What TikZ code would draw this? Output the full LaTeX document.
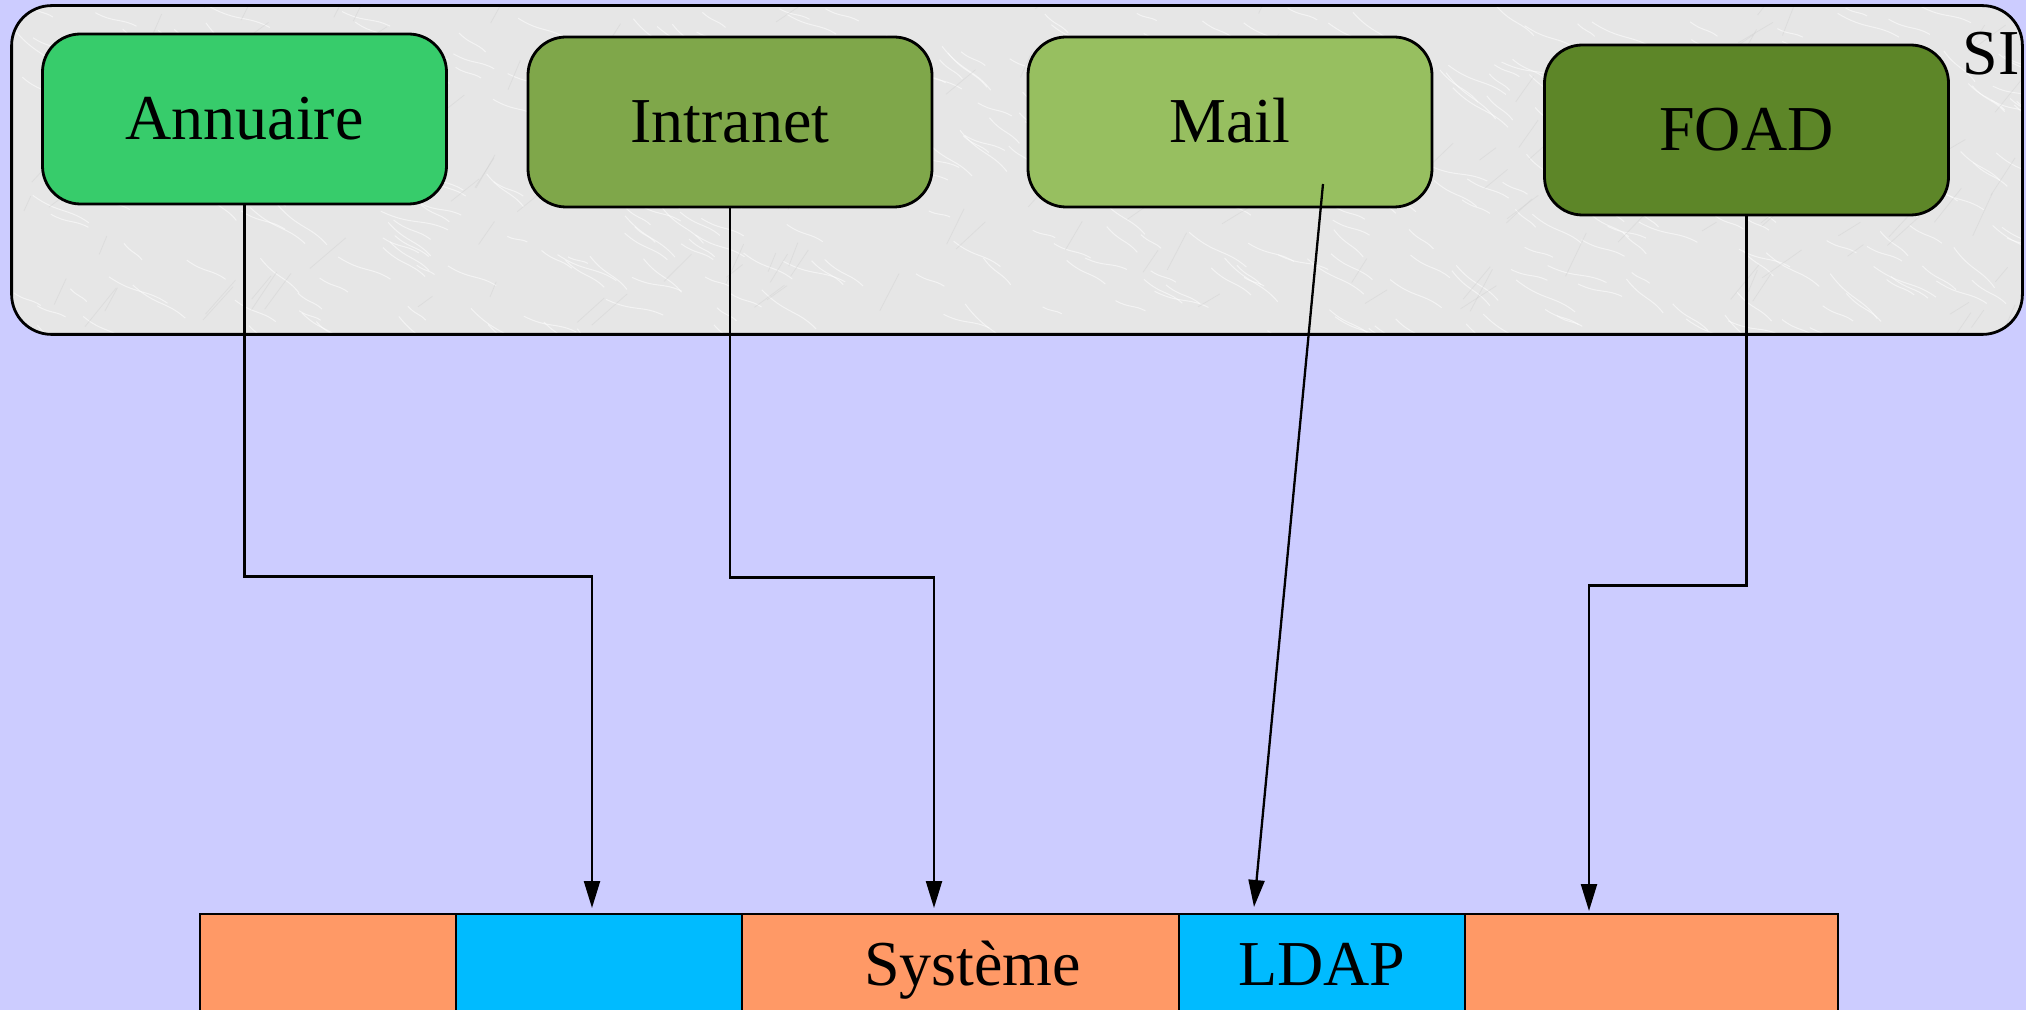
\documentclass[tikz,border=0pt]{standalone}
\usepackage{fontspec}
\setmainfont{Liberation Serif}
\usetikzlibrary{arrows.meta}
\definecolor{bgcol}{HTML}{CCCCFF}
\definecolor{sicol}{HTML}{E6E6E6}
\definecolor{annucol}{HTML}{37CC6B}
\definecolor{intracol}{HTML}{7FA74A}
\definecolor{mailcol}{HTML}{97BF60}
\definecolor{foadcol}{HTML}{5D8628}
\definecolor{orangecol}{HTML}{FF9966}
\definecolor{bluecol}{HTML}{00BBFF}
\begin{document}
\begin{tikzpicture}[x=0.5pt,y=-0.5pt,
  txt/.style={font=\fontsize{32}{38}\selectfont, text height=21pt, text depth=0pt},
  appbox/.style={txt, draw=black, line width=1.4pt, rounded corners=19pt,
    minimum width=202pt, minimum height=85pt, inner sep=0pt},
  seg/.style={txt, draw=black, line width=1.2pt, minimum height=50pt, inner sep=0pt},
  conn/.style={draw=black, line width=1.15pt, -{Triangle[length=13.5pt,width=8pt]}}]
\clip (0,0) rectangle (2026,1010);
\fill[bgcol] (0,0) rectangle (2026,1010);

% information system container with a light marbled surface
\node[fill=sicol, rounded corners=20pt,
  minimum width=1005pt, minimum height=164pt, inner sep=0pt] (si) at (1017,170) {};
\begin{scope}
  \clip[rounded corners=20pt] (12,6) rectangle (2022,334);
  \pgfmathsetseed{11}
  \foreach \k in {1,...,420}{
    \pgfmathsetmacro{\px}{12+2010*rnd}
    \pgfmathsetmacro{\py}{6+328*rnd}
    \pgfmathsetmacro{\ang}{25+30*rnd}
    \pgfmathsetmacro{\len}{20+50*rnd}
    \draw[white, opacity=0.55, line width=0.5pt]
      (\px,\py) .. controls +(\ang:\len*0.5) and +(\ang+180:\len*0.4) .. +(\ang-10:\len);
  }
  \foreach \k in {1,...,160}{
    \pgfmathsetmacro{\px}{12+2010*rnd}
    \pgfmathsetmacro{\py}{6+328*rnd}
    \pgfmathsetmacro{\ang}{-30-40*rnd}
    \pgfmathsetmacro{\len}{15+35*rnd}
    \draw[gray!40, opacity=0.35, line width=0.4pt]
      (\px,\py) -- +(\ang:\len);
  }
\end{scope}
\draw[black, line width=1.4pt, rounded corners=20pt] (si.south west) rectangle (si.north east);
\node[txt, inner sep=0pt] (silabel) at (1991,54) {SI};

% applications
\node[appbox, fill=annucol] (annuaire) at (244.5,119) {Annuaire};
\node[appbox, fill=intracol] (intranet) at (730,122) {Intranet};
\node[appbox, fill=mailcol] (mail) at (1230,122) {Mail};
\node[appbox, fill=foadcol] (foad) at (1746.5,130) {FOAD};

% operating system bar
\node[seg, fill=orangecol, minimum width=128pt] (s1) at (328,964) {};
\node[seg, fill=bluecol, minimum width=143pt] (s2) at (599,964) {};
\node[seg, fill=orangecol, minimum width=218.5pt] (s3) at (960.5,964) {\hspace*{12pt}Système};
\node[seg, fill=bluecol, minimum width=143pt] (s4) at (1322,964) {LDAP};
\node[seg, fill=orangecol, minimum width=186.5pt] (s5) at (1651.5,964) {};

% arrow targets above the bar
\coordinate (t1) at (592,908);
\coordinate (t2) at (934,908);
\coordinate (t3) at (1254,907);
\coordinate (t4) at (1589,911);
\coordinate (mstart) at (1323,184);

% connectors
\draw[conn] (annuaire.south) -- ++(0,371) -| (t1);
\draw[conn] (intranet.south) -- ++(0,369) -| (t2);
\draw[conn] (mstart) -- (t3);
\draw[conn] (foad.south) -- ++(0,369) -| (t4);
\end{tikzpicture}
\end{document}
